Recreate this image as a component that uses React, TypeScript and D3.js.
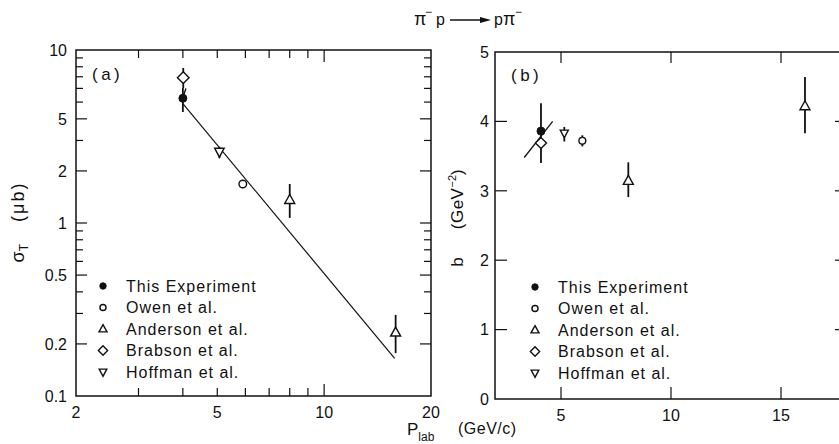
import React from "react";
import * as d3 from "d3";

// ---------- data ----------
const seriesLabels = ["This Experiment", "Owen et al.", "Anderson et al.", "Brabson et al.", "Hoffman et al."];
const seriesShapes = ["filledCircle", "openCircle", "triangleUp", "diamond", "triangleDown"];

// panel (a): sigma_T (μb) vs P_lab (GeV/c)
const sigmaThisExperiment = [{ p: 4.0, v: 5.26, lo: 4.38, hi: 6.03 }];
const sigmaOwen = [{ p: 5.9, v: 1.68 }];
const sigmaAnderson = [
  { p: 8.0, v: 1.36, lo: 1.07, hi: 1.68 },
  { p: 15.9, v: 0.233, lo: 0.177, hi: 0.294 },
];
const sigmaBrabson = [{ p: 4.01, v: 6.92, lo: 6.03, hi: 7.87 }];
const sigmaHoffman = [{ p: 5.07, v: 2.58, lo: 2.37, hi: 2.76 }];
const sigmaFit = [{ p: 4.0, v: 4.9 }, { p: 15.8, v: 0.165 }];
const sigmaSlope = [{ p: 4.0, v: 5.3 }, { p: 4.08, v: 6.0 }];

// panel (b): slope b (GeV^-2) vs P_lab (GeV/c)
const bThisExperiment = [{ p: 4.09, v: 3.86, lo: 3.4, hi: 4.26 }];
const bOwen = [{ p: 5.97, v: 3.72, lo: 3.64, hi: 3.8 }];
const bAnderson = [
  { p: 8.06, v: 3.145, lo: 2.91, hi: 3.41 },
  { p: 16.09, v: 4.22, lo: 3.83, hi: 4.64 },
];
const bBrabson = [{ p: 4.09, v: 3.69 }];
const bHoffman = [{ p: 5.15, v: 3.83, lo: 3.71, hi: 3.92 }];
const bSlope = [{ p: 3.33, v: 3.48 }, { p: 4.62, v: 4.0 }];

// ticks
const sigmaTickValues = [0.1, 0.2, 0.5, 1, 2, 4, 10];
const sigmaTickLabels = ["0.1", "0.2", "0.5", "1", "2", "5", "10"];
const sigmaMinorTicks = [0.3, 0.4, 0.6, 0.7, 0.8, 0.9, 3, 5, 6, 7, 8, 9];
const pLogTickValues = [2, 5, 10, 20];
const pLogTickLabels = ["2", "5", "10", "20"];
const pLogMinorTicks = [3, 4, 5, 6, 7, 8, 9];
const pLogMajorInner = [10];
const bTickValues = [0, 1, 2, 3, 4, 5];
const bTickLabels = ["0", "1", "2", "3", "4", "5"];
const pLinTickValues = [5, 10, 15];
const pLinTickLabels = ["5", "10", "15"];

const FONT = "'Liberation Sans', Arial, Helvetica, sans-serif";
const INK = "#111";

type Pt = { p: number; v: number; lo?: number; hi?: number };

function Marker({ shape, x, y, k = 1 }: { shape: string; x: number; y: number; k?: number }) {
  const sw = 1.4;
  if (shape === "filledCircle") return <circle cx={x} cy={y} r={4 * k} fill={INK} stroke={INK} strokeWidth={1} />;
  if (shape === "openCircle") return <circle cx={x} cy={y} r={3.8 * k} fill="#fff" stroke={INK} strokeWidth={sw} />;
  if (shape === "triangleUp") {
    const w = 10 * k, h = 9 * k;
    return <path d={`M${x},${y - h * 0.6}L${x + w / 2},${y + h * 0.4}L${x - w / 2},${y + h * 0.4}Z`} fill="#fff" stroke={INK} strokeWidth={sw} strokeLinejoin="miter" />;
  }
  if (shape === "triangleDown") {
    const w = 9.5 * k, h = 9 * k;
    return <path d={`M${x},${y + h * 0.6}L${x + w / 2},${y - h * 0.4}L${x - w / 2},${y - h * 0.4}Z`} fill="#fff" stroke={INK} strokeWidth={sw} />;
  }
  const a = 5.8 * k;
  return <path d={`M${x},${y - a}L${x + a},${y}L${x},${y + a}L${x - a},${y}Z`} fill="#fff" stroke={INK} strokeWidth={sw} />;
}

function Series({ data, shape, xs, ys, k = 1 }: { data: Pt[]; shape: string; xs: any; ys: any; k?: number }) {
  return (
    <g>
      {data.map((d, i) =>
        d.lo !== undefined && d.hi !== undefined ? (
          <line key={"e" + i} x1={xs(d.p)} x2={xs(d.p)} y1={ys(d.lo)} y2={ys(d.hi)} stroke={INK} strokeWidth={1.8} />
        ) : null
      )}
      {data.map((d, i) => (
        <Marker key={"m" + i} shape={shape} x={xs(d.p)} y={ys(d.v)} k={k} />
      ))}
    </g>
  );
}

function Legend({ x, y, dy }: { x: number; y: number; dy: number }) {
  return (
    <g>
      {seriesLabels.map((lab, i) => (
        <g key={lab}>
          <Marker shape={seriesShapes[i]} x={x} y={y + i * dy} k={0.8} />
          <text x={x + 23} y={y + i * dy} dy="0.36em" fontSize={16} letterSpacing={1} fontFamily={FONT} fill={INK}>
            {lab}
          </text>
        </g>
      ))}
    </g>
  );
}

export default function App() {
  const xL = d3.scaleLog().domain([2, 20]).range([76, 431]);
  const yL = d3.scaleLog().domain([0.1, 10]).range([396, 50]);
  const xR = d3.scaleLinear().domain([2, 18]).range([495, 847]);
  const yR = d3.scaleLinear().domain([0, 5]).range([399, 52]);

  const lineL = d3.line<Pt>().x((d) => xL(d.p)).y((d) => yL(d.v));
  const lineR = d3.line<Pt>().x((d) => xR(d.p)).y((d) => yR(d.v));

  const [L0, L1] = xL.range();
  const [LB, LT] = yL.range();
  const [R0, R1] = xR.range();
  const [RB, RT] = yR.range();

  const tickStroke = 1.2;

  return (
    <svg
      width={839}
      height={444}
      viewBox="0 0 839 444"
      style={{ position: "absolute", left: 0, top: 0, background: "#fff", overflow: "hidden" }}
      fontFamily={FONT}
    >
      <rect x={0} y={0} width={839} height={444} fill="#fff" />

      {/* title */}
      <g fill={INK}>
        <text x={414} y={25} fontSize={18}>π</text>
        <text x={425} y={16} fontSize={12}>−</text>
        <text x={436} y={25} fontSize={16}>p</text>
        <line x1={450} x2={483} y1={20} y2={20} stroke={INK} strokeWidth={1.3} />
        <path d="M480,17L491,20L480,23Z" fill={INK} />
        <text x={494} y={25} fontSize={16}>p</text>
        <text x={503} y={25} fontSize={18}>π</text>
        <text x={515} y={16} fontSize={12}>−</text>
      </g>

      {/* ---------------- panel (a) ---------------- */}
      <rect x={L0} y={LT} width={L1 - L0} height={LB - LT} fill="none" stroke={INK} strokeWidth={1.5} />
      {sigmaTickValues.slice(1, -1).map((v) => (
        <g key={"ly" + v}>
          <line x1={L0} x2={L0 + 11} y1={yL(v)} y2={yL(v)} stroke={INK} strokeWidth={tickStroke} />
          <line x1={L1} x2={L1 - 11} y1={yL(v)} y2={yL(v)} stroke={INK} strokeWidth={tickStroke} />
        </g>
      ))}
      {sigmaMinorTicks.map((v) => (
        <g key={"lym" + v}>
          <line x1={L0} x2={L0 + 7} y1={yL(v)} y2={yL(v)} stroke={INK} strokeWidth={tickStroke} />
          <line x1={L1} x2={L1 - 7} y1={yL(v)} y2={yL(v)} stroke={INK} strokeWidth={tickStroke} />
        </g>
      ))}
      {sigmaTickValues.map((v, i) => (
        <text key={"lyl" + v} x={67} y={yL(v)} dy="0.36em" textAnchor="end" fontSize={16} fill={INK}>
          {sigmaTickLabels[i]}
        </text>
      ))}
      {pLogMinorTicks.map((v) => (
        <g key={"lx" + v}>
          <line x1={xL(v)} x2={xL(v)} y1={LB} y2={LB - 8} stroke={INK} strokeWidth={tickStroke} />
          <line x1={xL(v)} x2={xL(v)} y1={LT} y2={LT + 8} stroke={INK} strokeWidth={tickStroke} />
        </g>
      ))}
      {pLogMajorInner.map((v) => (
        <g key={"lxM" + v}>
          <line x1={xL(v)} x2={xL(v)} y1={LB} y2={LB - 12} stroke={INK} strokeWidth={tickStroke} />
          <line x1={xL(v)} x2={xL(v)} y1={LT} y2={LT + 12} stroke={INK} strokeWidth={tickStroke} />
        </g>
      ))}
      {pLogTickValues.map((v, i) => (
        <text key={"lxl" + v} x={xL(v)} y={418} textAnchor="middle" fontSize={16} fill={INK}>
          {pLogTickLabels[i]}
        </text>
      ))}
      <text x={92} y={80} fontSize={17} letterSpacing={3.5} fill={INK}>(a)</text>
      <text transform="translate(24,222) rotate(-90)" textAnchor="middle" fontSize={18} fill={INK}>
        <tspan>σ</tspan>
        <tspan fontSize={12} dy={4}>T</tspan>
        <tspan dx={22} dy={-4} letterSpacing={2}>(μb)</tspan>
      </text>

      <path d={lineL(sigmaFit) || ""} fill="none" stroke={INK} strokeWidth={1.2} />
      <path d={lineL(sigmaSlope) || ""} fill="none" stroke={INK} strokeWidth={1.4} />
      <Series data={sigmaBrabson} shape="diamond" xs={xL} ys={yL} />
      <Series data={sigmaThisExperiment} shape="filledCircle" xs={xL} ys={yL} />
      <Series data={sigmaHoffman} shape="triangleDown" xs={xL} ys={yL} />
      <Series data={sigmaOwen} shape="openCircle" xs={xL} ys={yL} />
      <Series data={sigmaAnderson} shape="triangleUp" xs={xL} ys={yL} />
      <Legend x={103} y={286} dy={21.5} />

      {/* ---------------- panel (b) ---------------- */}
      <rect x={R0} y={RT} width={R1 - R0} height={RB - RT} fill="none" stroke={INK} strokeWidth={1.5} />
      {bTickValues.slice(1, -1).map((v) => (
        <g key={"ry" + v}>
          <line x1={R0} x2={R0 + 12} y1={yR(v)} y2={yR(v)} stroke={INK} strokeWidth={tickStroke} />
          <line x1={R1} x2={R1 - 12} y1={yR(v)} y2={yR(v)} stroke={INK} strokeWidth={tickStroke} />
        </g>
      ))}
      {bTickValues.map((v, i) => (
        <text key={"ryl" + v} x={489} y={yR(v)} dy="0.36em" textAnchor="end" fontSize={16} fill={INK}>
          {bTickLabels[i]}
        </text>
      ))}
      {pLinTickValues.map((v) => (
        <g key={"rx" + v}>
          <line x1={xR(v)} x2={xR(v)} y1={RB} y2={RB - 12} stroke={INK} strokeWidth={tickStroke} />
          <line x1={xR(v)} x2={xR(v)} y1={RT} y2={RT + 11} stroke={INK} strokeWidth={tickStroke} />
        </g>
      ))}
      {pLinTickValues.map((v, i) => (
        <text key={"rxl" + v} x={xR(v)} y={421} textAnchor="middle" fontSize={16} fill={INK}>
          {pLinTickLabels[i]}
        </text>
      ))}
      <text x={511} y={81} fontSize={17} letterSpacing={3.5} fill={INK}>(b)</text>
      <text transform="translate(463,218) rotate(-90)" textAnchor="middle" fontSize={17} fill={INK}>
        <tspan>b</tspan>
        <tspan dx={28} letterSpacing={0.5}>(GeV</tspan>
        <tspan fontSize={11} dy={-7}>−2</tspan>
        <tspan dy={7}>)</tspan>
      </text>

      <path d={lineR(bSlope) || ""} fill="none" stroke={INK} strokeWidth={1.3} />
      <Series data={bThisExperiment} shape="filledCircle" xs={xR} ys={yR} />
      <Series data={bBrabson} shape="diamond" xs={xR} ys={yR} k={0.95} />
      <Series data={bHoffman} shape="triangleDown" xs={xR} ys={yR} k={0.85} />
      <Series data={bOwen} shape="openCircle" xs={xR} ys={yR} k={0.9} />
      <Series data={bAnderson} shape="triangleUp" xs={xR} ys={yR} />
      <Legend x={535} y={287} dy={21.5} />

      {/* shared x title */}
      <text x={407} y={435} fontSize={17} fill={INK}>
        P<tspan fontSize={12} dy={6}>lab</tspan>
      </text>
      <text x={458} y={434} fontSize={16} fill={INK} letterSpacing={0.5}>(GeV/c)</text>
    </svg>
  );
}
